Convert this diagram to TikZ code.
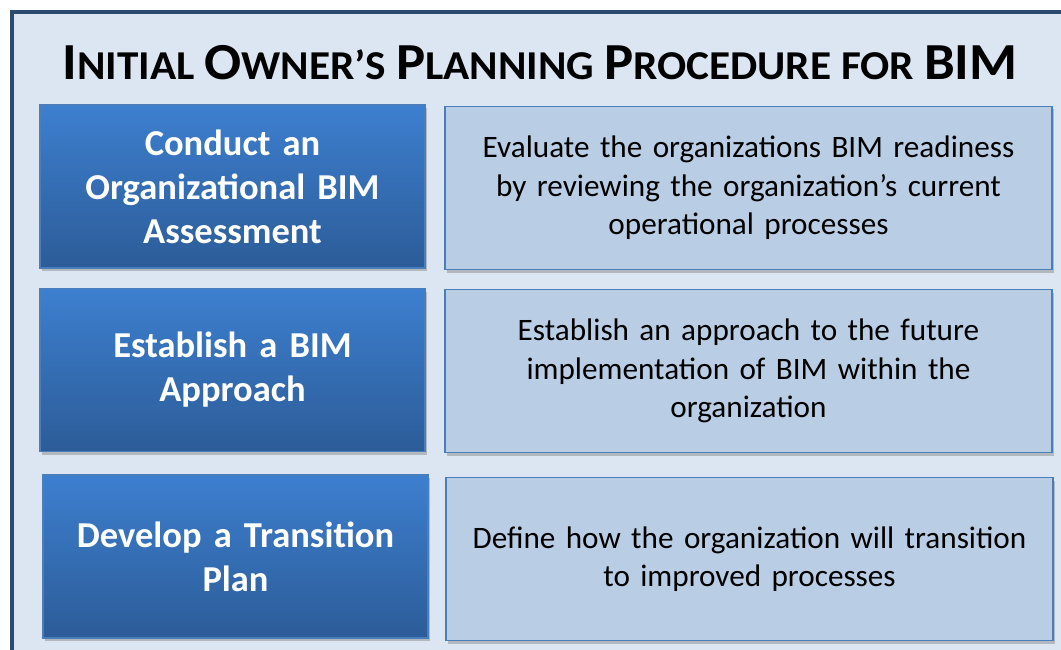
\documentclass[tikz,border=0pt]{standalone}
\usepackage{fontspec}
\usepackage{graphicx}
\setmainfont{Carlito}
\usetikzlibrary{shadows}
\definecolor{frameblue}{HTML}{2A4A6E}
\definecolor{bgfill}{HTML}{DCE6F2}
\definecolor{lefttop}{HTML}{3D7FCF}
\definecolor{leftbot}{HTML}{2C5C98}
\definecolor{leftedge}{HTML}{4A7EBB}
\definecolor{rightfill}{HTML}{B9CDE5}
\newcommand{\BigC}[1]{{\fontsize{52}{60}\selectfont #1}}
\tikzset{
  stepbox/.style={draw=leftedge, line width=1.2pt, top color=lefttop, bottom color=leftbot,
    minimum width=385pt, minimum height=163pt, inner sep=0pt, text=white, align=center,
    text width=375pt, font=\fontsize{36.5}{44}\selectfont\bfseries,
    drop shadow={opacity=0.45, shadow xshift=2pt, shadow yshift=-3pt}},
  descbox/.style={draw=leftedge, line width=1.2pt, fill=rightfill,
    minimum width=607pt, minimum height=163pt, inner sep=0pt, text=black, align=center,
    text width=595pt, font=\fontsize{31.2}{38.5}\selectfont,
    drop shadow={opacity=0.45, shadow xshift=2pt, shadow yshift=-3pt}}
}
\begin{document}
\begin{tikzpicture}[x=1pt,y=-1pt]
\useasboundingbox (0,0) rectangle (1061,650);
\clip (0,0) rectangle (1061,650);
\draw[line width=4pt, draw=frameblue, fill=bgfill] (12,12) rectangle (1075,665);
\node[anchor=base, inner sep=0pt, font=\fontsize{41}{60}\selectfont\bfseries] (title) at (540,80)
  {\scalebox{1.055}[1]{\BigC{I}NITIAL \BigC{O}WNER’S \BigC{P}LANNING \BigC{P}ROCEDURE FOR \BigC{BIM}}};
\node[stepbox] (s1) at (232.5,186.5) {Conduct an\\Organizational BIM\\Assessment};
\node[stepbox] (s2) at (232.5,370) {Establish a BIM\\Approach};
\node[stepbox] (s3) at (235.5,556.5) {Develop a Transition\\Plan};
\node[descbox] (d1) at (748.5,188) {Evaluate the organizations BIM readiness\\by reviewing the organization’s current\\operational processes};
\node[descbox] (d2) at (748.5,371) {Establish an approach to the future\\implementation of BIM within the\\organization};
\node[descbox] (d3) at (749.5,559) {Define how the organization will transition\\to improved processes};
\end{tikzpicture}
\end{document}
